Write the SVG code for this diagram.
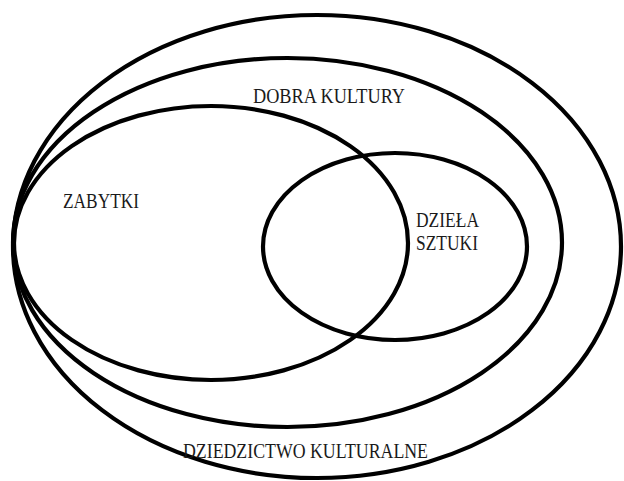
<svg xmlns="http://www.w3.org/2000/svg" width="624" height="481" viewBox="0 0 624 481">
<style>
.set{fill:none;stroke:#000;stroke-width:4.2}
.lbl{font-family:"Liberation Serif","Times New Roman",serif;font-size:21px;fill:#1a1a1a}
</style>
<rect width="624" height="481" fill="#fff"/>
<g id="dziedzictwo"><ellipse class="set" cx="317" cy="246.5" rx="304" ry="231.5"/>
<text class="lbl" x="183" y="458" textLength="245" lengthAdjust="spacingAndGlyphs">DZIEDZICTWO KULTURALNE</text></g>
<g id="dobra"><ellipse class="set" cx="287.5" cy="242.5" rx="274.5" ry="184.5"/>
<text class="lbl" x="253" y="103" textLength="152" lengthAdjust="spacingAndGlyphs">DOBRA KULTURY</text></g>
<g id="zabytki"><ellipse class="set" cx="211" cy="243" rx="197" ry="137"/>
<text class="lbl" x="63" y="208" textLength="76" lengthAdjust="spacingAndGlyphs">ZABYTKI</text></g>
<g id="dziela"><ellipse class="set" cx="395" cy="246.5" rx="132" ry="93.5"/>
<text class="lbl" x="416" y="227" textLength="63" lengthAdjust="spacingAndGlyphs">DZIEŁA</text>
<text class="lbl" x="416" y="250" textLength="62" lengthAdjust="spacingAndGlyphs">SZTUKI</text></g>
<g id="connectors"/>
</svg>
